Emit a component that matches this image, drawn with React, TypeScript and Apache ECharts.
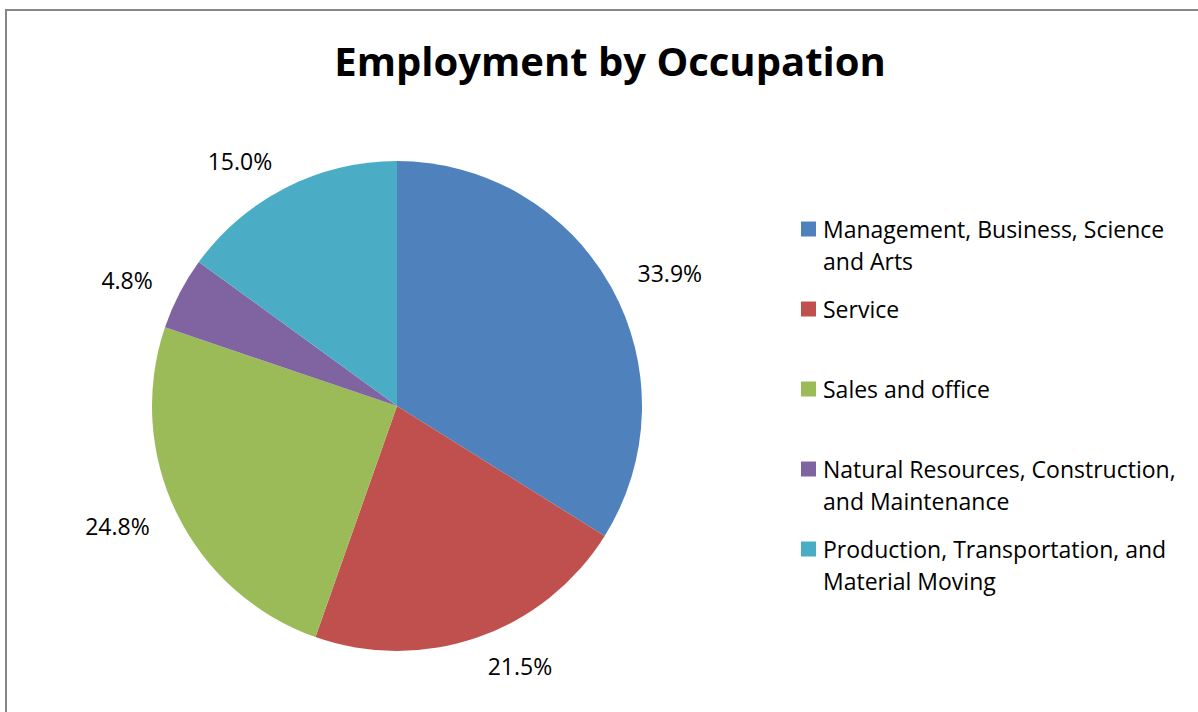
import React, { useEffect, useRef } from "react";
import * as echarts from "echarts";

const title = "Employment by Occupation";
const categories = [
  "Management, Business, Science and Arts",
  "Service",
  "Sales and office",
  "Natural Resources, Construction, and Maintenance",
  "Production, Transportation, and Material Moving",
];
const legendLabels = [
  "Management, Business, Science\nand Arts",
  "Service",
  "Sales and office",
  "Natural Resources, Construction,\nand Maintenance",
  "Production, Transportation, and\nMaterial Moving",
];
const values = [33.9, 21.5, 24.8, 4.8, 15.0];
const colors = ["#4F81BD", "#C0504D", "#9BBB59", "#8064A2", "#4BACC6"];

const FONT = "'Open Sans'";

export default function App() {
  const ref = useRef<HTMLDivElement>(null);
  useEffect(() => {
    if (!ref.current) return;
    const chart = echarts.init(ref.current, undefined, { renderer: "svg" });
    const legendGraphics: any[] = [];
    categories.forEach((c, i) => {
      const cy = 229 + 80 * i;
      legendGraphics.push({
        type: "rect",
        shape: { x: 801, y: cy - 7.5, width: 15, height: 15 },
        style: { fill: colors[i] },
      });
      legendGraphics.push({
        type: "text",
        x: 823,
        y: cy - 16,
        style: {
          text: legendLabels[i],
          fill: "#000",
          font: `23px ${FONT}`,
          lineHeight: 32,
          verticalAlign: "top",
          align: "left",
        },
      });
    });
    chart.setOption({
      animation: false,
      backgroundColor: "#fff",
      title: {
        text: title,
        left: 605,
        top: 28,
        textAlign: "center",
        textStyle: { fontFamily: FONT, fontWeight: "bold", fontSize: 40, color: "#000", lineHeight: 54 },
      },
      graphic: [
        {
          type: "rect",
          shape: { x: 6, y: 10, width: 1300, height: 800 },
          style: { fill: "none", stroke: "#878787", lineWidth: 2 },
        },
        ...legendGraphics,
      ],
      series: [
        {
          type: "pie",
          center: [397, 406],
          radius: 245,
          startAngle: 90,
          clockwise: true,
          avoidLabelOverlap: false,
          color: colors,
          data: categories.map((c, i) => ({ name: c, value: values[i] })),
          label: {
            show: true,
            position: "outside",
            formatter: (p: any) => p.value.toFixed(1) + "%",
            fontFamily: FONT,
            fontSize: 23,
            color: "#000",
            distanceToLabelLine: 0,
          },
          labelLine: { show: false, length: 30, length2: 0 },
          emphasis: { disabled: true },
        },
      ],
    });
    return () => chart.dispose();
  }, []);
  return (
    <div
      ref={ref}
      style={{ position: "absolute", left: 0, top: 0, width: 1198, height: 712 }}
    />
  );
}
